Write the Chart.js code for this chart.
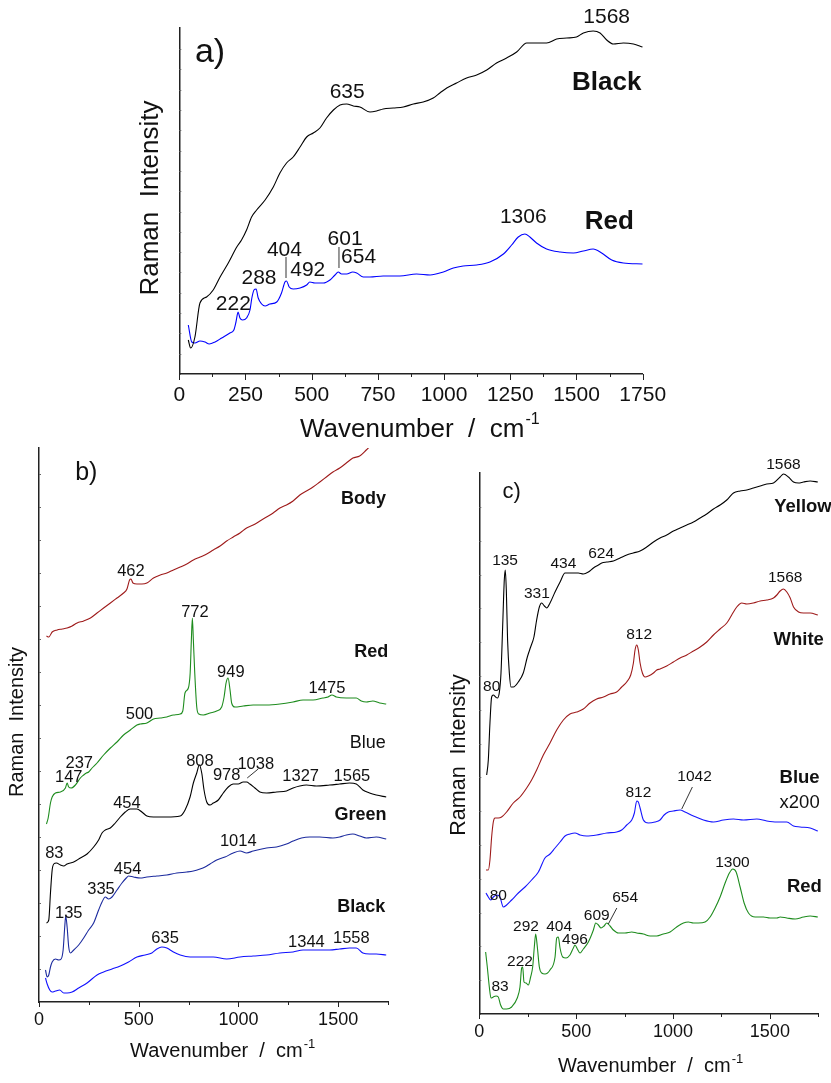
<!DOCTYPE html>
<html>
<head>
<meta charset="utf-8">
<script src="https://cdn.jsdelivr.net/npm/chart.js@4.4.0/dist/chart.umd.min.js"></script>
<style>
  body { margin: 0; background: #fff; }
  #wrap { position: relative; width: 831px; height: 1083px; overflow: hidden; }
  canvas { position: absolute; }
</style>
</head>
<body>
<div id="wrap">
  <canvas id="pa" width="701" height="440" style="left:130px;top:0px"></canvas>
  <canvas id="pb" width="440" height="643" style="left:0px;top:440px"></canvas>
  <canvas id="pc" width="391" height="643" style="left:440px;top:440px"></canvas>
</div>
<script>
// ---- panel a) : wavenumber (cm-1) / relative intensity ----
const aTicks = [0, 250, 500, 750, 1000, 1250, 1500, 1750];
const aBlackX = [34,43,59,78,103,128,154,185,217,235,
  254,273,292,324,355,380,405,430,456,481,
  506,531,556,582,607,632,657,682,720,745,
  770,808,846,884,921,959,984,1010,1047,1085,
  1123,1161,1198,1236,1274,1312,1349,1387,1425,1463,
  1500,1526,1563,1589,1614,1639,1677,1715,1750];
const aBlackY = [34,26,37,71,77,84,97,111,127,134,
  144,157,164,174,187,201,211,217,227,237,
  241,246,256,264,269,270,268,267,262,263,
  265,266,267,270,272,276,281,286,291,296,
  299,304,311,316,322,331,331,331,335,336,
  337,341,343,341,334,330,331,330,327];
const aRedX = [34,47,59,78,97,113,135,160,191,206,
  214,222,229,239,254,267,274,282,290,298,
  311,324,342,368,386,399,405,415,430,456,
  481,493,512,544,569,588,600,613,632,655,
  670,695,720,770,833,896,947,997,1035,1072,
  1123,1173,1224,1255,1280,1305,1324,1349,1387,1438,
  1488,1526,1563,1595,1633,1677,1750];
const aRedY = [49,32,31,33,32,30,32,36,41,44,
  52,62,56,54,56,64,76,84,85,76,
  70,68,70,72,81,92,93,87,85,86,
  89,92,91,91,94,99,102,100,100,102,
  101,97,97,98,98,100,99,102,106,108,
  109,112,120,129,137,140,137,131,125,122,
  121,123,125,121,114,111,110];
const aNames = [['Black', 1614, 291], ['Red', 1624, 152]];
const aPeaks = [['1568',1614,357],['635',634,282],['1306',1299,157],['404',397,124],
  ['601',626,135],['654',677,117],['492',485,104],['288',301,96],['222',204,70]];
const aLeaders = [[403,117,403,96],[603,127,603,106]];

// ---- panel b) ----
const bTicks = [0, 500, 1000, 1500];
const bBodyX = [37.5,49,66,91,116,141,166,191,224,258,
  291,324,358,391,424,441,454,461,471,491,
  516,541,574,608,641,674,708,741,774,808,
  841,874,908,941,974,1008,1041,1074,1108,1141,
  1174,1208,1241,1274,1308,1341,1374,1408,1441,1474,
  1508,1541,1574,1608,1641,1661];
const bBodyY = [366,365,370,372,373,374,376,379,381,384,
  389,394,399,404,409,413,422,423,419,418,
  418,419,424,427,429,432,435,438,442,445,
  448,452,456,461,465,469,474,477,481,485,
  489,494,497,501,507,511,515,520,525,530,
  534,539,544,546,552,556];
const bRedX = [37.5,46,57.5,66,82.5,107.5,132.5,141,149,161,
  182.5,207.5,224,237.5,249,266,291,324,358,391,
  424,458,491,508,541,574,608,641,674,708,
  721,732,749,758,764,769,774,781,791,801,
  824,858,891,916,928,938,948,958,966,982,
  1024,1074,1141,1208,1274,1324,1374,1424,1449,1469,
  1491,1541,1591,1616,1641,1674,1708,1741];
const bRedY = [178,184,199,205,209,210,214,219,215,214,
  217,224,227,229,230,234,239,247,254,260,
  267,272,277,278,279,283,284,285,287,288,
  291,309,314,329,362,384,362,329,295,288,
  287,289,291,295,305,319,324,312,299,295,
  296,297,297,298,300,302,302,304,305,307,
  305,304,304,301,300,301,299,298];
const bBlueX = [37.5,49,57.5,66,74,87.5,107.5,124,141,174,
  207.5,241,274,299,316,332.5,357.5,382.5,407.5,432.5,
  457.5,491,516,541,574,641,708,732.5,757.5,774,
  791,804,816,827.5,841,857.5,874,899,924,949,
  974,999,1024,1041,1057.5,1082.5,1107.5,1141,1191,1241,
  1274,1307.5,1341,1391,1457.5,1507.5,1557.5,1591,1624,1657.5,
  1691,1741];
const bBlueY = [79,82,109,132,138,139,137,136,138,140,
  144,148,155,162,169,172,174,179,185,190,
  193,193,190,186,185,185,186,192,205,219,
  229,237,229,212,200,197,199,202,209,215,
  218,218,220,220,218,214,210,209,210,211,
  214,216,217,216,217,218,219,218,212,209,
  207,205];
const bGreenX = [32.5,41,49,57.5,66,82.5,99,111,121,129,
  134,141,149,157.5,174,199,224,249,274,299,
  316,332.5,349,366,391,416,437.5,449,474,507.5,
  541,591,641,691,741,774,807.5,832.5,857.5,891,
  932.5,974,1008,1041,1074,1141,1191,1241,1274,1316,
  1357.5,1407.5,1474,1507.5,1541,1574,1608,1641,1691,1741];
const bGreenY = [32,25,27,35,40,43,42,43,52,75,
  86,75,55,49,52,57,64,72,79,92,
  100,105,103,105,112,119,124,126,125,124,
  125,126,127,129,130,131,133,135,138,142,
  145,149,151,149,151,154,155,158,161,164,
  165,165,164,165,167,168,166,164,165,163];
const bBlackX = [32.5,41,54,66,82.5,104,124,141,166,199,
  241,291,324,366,407.5,449,491,532.5,566,591,
  616,641,674,708,758,807.5,874,941,1008,1074,
  1141,1208,1274,1324,1391,1457.5,1507.5,1557.5,1591,1624,
  1657.5,1691,1741];
const bBlackY = [24,18,12,10,11,12,9,9,10,14,
  19,27,30,33,36,40,45,47,49,53,
  55,54,50,47,45,45,45,43,45,46,
  47,49,50,52,52,52,53,54,54,49,
  48,48,47];
const bNames = [['Body',1627,503],['Red',1666,350],['Green',1612,187],['Black',1616,95]];
const bPlain = [['Blue',1649,259]];
const bPeaks = [['462',461,431],['772',782,390],['949',962,330],['1475',1444,314],['500',504,288],
  ['237',202,239],['808',807,241],['147',149,225],['978',941,227],['1038',1087,238],
  ['1327',1312,226],['1565',1569,226],['454',441,199],['83',77,149],['1014',999,161],
  ['454',444,133],['335',311,113],['135',149,89],['635',632,64],['1344',1341,60],['1558',1566,64]];
const bLeaders = [[1044,224,1099,233]];

// ---- panel c) ----
const cTicks = [0, 500, 1000, 1500];
const cYellowX = [38,46.5,55,63.7,72.3,84.4,93,103,112,120.5,
  129,134,139.5,146,155,163.6,175.6,201.4,227,248,
  265,282,296,310,322,336,348,365,391,417,
  442.5,460,485.5,511,537,563,589,615,632,658,
  692,726.6,761,795,830,864,899,933,967.6,1002,
  1036.5,1071,1105.4,1140,1174,1208.7,1243,1277.5,1312,1346.4,
  1381,1415,1450,1484,1518.6,1553,1570,1596,1622,1648,
  1673.5,1708,1747.6];
const cYellowY = [239,254,291,317,319,317,316,321,341,387,
  434,444,424,374,341,327,327,332,341,357,
  367,377,394,407,411,408,406,411,422,432,
  441,441,441,441,440,442,446,449,451,452,
  453,456,459,461,463,467,472,476,479,483,
  486,489,492,496,500,505,509,514,521,523,
  524,526,528,530,531,537,540,537,532,531,
  532,533,532];
const cWhiteX = [34.4,46.5,55,63.7,72.3,81,98,115,141,175.6,
  210,244.5,270,296,330.6,365,399.5,434,468,503,
  537,571.6,606,640.5,675,709,735,761,781.7,795.5,
  804,812.7,821,830,842,856,873,899,916,933,
  967.6,1002,1036.5,1071,1105.4,1140,1174,1208.7,1243,1277.5,
  1303,1329,1355,1381,1415,1450,1484,1518.6,1536,1553,
  1570,1587.5,1605,1622,1648,1673.5,1708,1747.6];
const cWhiteY = [144,144,154,177,192,196,196,197,202,211,
  217,226,234,244,259,271,284,294,300,302,
  305,311,315,317,320,322,327,332,339,351,
  364,369,364,351,341,337,338,341,344,345,
  348,352,356,359,363,367,372,379,385,391,
  399,407,411,410,411,413,414,416,419,423,
  425,422,416,407,402,401,401,399];
const cBlueX = [34.4,46.5,58.5,72.3,89.5,106.7,124,141,167,201.4,
  236,270,305,339,365,391,417,442.5,468,494,
  520,554,606,658,709,735,761,787,800.6,812.7,
  821,830,847,873,907,933,954,976,1002,1036.5,
  1062,1105.4,1157,1208.7,1260,1312,1363.6,1432.5,1484,1536,
  1587.5,1622,1656,1708,1747.6];
const cBlueY = [121,117,114,117,119,117,107,109,114,121,
  127,134,142,156,160,166,172,178,180,181,
  179,178,179,181,182,184,189,194,201,213,
  212,206,194,191,192,194,199,202,203,204,
  202,198,194,192,194,195,194,195,193,192,
  192,188,187,186,183];
const cRedX = [32.7,41.3,51.7,60.3,72.3,86,98,110,124,141,
  167,196,210,218.7,224,230.7,241,253,265,275.5,
  284,291,299.6,310,322,339,365,391,399.5,408,
  416.7,430.4,447.7,468,485.5,494,506,520,537,563,
  589,601,614.7,628.4,644,657.7,675,692,718,752,
  787,812.7,847,881.5,916,950,985,1019,1053.7,1079.5,
  1105.4,1131,1165.6,1191.5,1217.3,1243,1269,1291,1308.5,1325.8,
  1346.4,1367,1389.5,1424,1467,1501,1536,1553,1587.5,1630.5,
  1673.5,1708,1747.6];
const cRedY = [62,47,27,16,17,18,17,9,5,5,
  7,16,27,46,47,32,31,29,37,47,
  67,80,67,47,41,40,44,57,76,77,
  66,57,56,59,66,69,65,61,65,72,
  84,91,89,86,88,91,88,84,81,81,
  82,81,80,78,78,80,82,87,91,92,
  91,91,92,97,106,117,131,141,145,142,
  127,111,101,97,97,96,96,97,96,95,
  97,98,97];
const cNames = [['Yellow',1522,507],['White',1519,374],['Blue',1550,236],['Red',1588,127]];
const cPlain = [['x200',1550,211]];
const cPeaks = [['1568',1570,549],['135',133,453],['331',297,420],['434',434,450],['624',629,460],
  ['1568',1579,436],['812',825,379],['80',64,327],['812',821,221],['1042',1111,237],
  ['1300',1307,151],['80',98,118],['609',606,98],['654',753,116],['292',241,87],
  ['404',412,87],['496',494,74],['222',210,52],['83',107,27]];
const cLeaders = [[1045,205,1100,227],[666,90,710,106]];

const FONT = 'Arial, "Liberation Sans", Helvetica, sans-serif';

function toXY(xs, ys) {
  return xs.map((v, i) => ({ x: v, y: ys[i] }));
}

function series(xs, ys, color) {
  return {
    data: toXY(xs, ys),
    borderColor: color,
    borderWidth: 1.1,
    pointRadius: 0,
    fill: false,
    cubicInterpolationMode: 'monotone'
  };
}

// ticks, peak labels and axis titles drawn on top of the plot
const deco = {
  id: 'deco',
  afterDraw(chart, args, o) {
    const { ctx, chartArea: ca, scales: { x, y } } = chart;
    ctx.save();
    ctx.strokeStyle = '#222';
    ctx.lineWidth = 1;
    for (let v = 0; v <= 1750; v += o.minor) {
      const px = Math.round(x.getPixelForValue(v)) + 0.5;
      const len = v % o.major === 0 ? o.majorLen : o.minorLen;
      ctx.beginPath();
      ctx.moveTo(px, ca.bottom);
      ctx.lineTo(px, ca.bottom + len);
      ctx.stroke();
    }
    ctx.strokeStyle = '#666';
    for (let py = ca.bottom - o.yStep; py > ca.top + 3; py -= o.yStep) {
      ctx.beginPath();
      ctx.moveTo(ca.left, Math.round(py) + 0.5);
      ctx.lineTo(ca.left + 2, Math.round(py) + 0.5);
      ctx.stroke();
    }
    ctx.strokeStyle = '#333';
    o.leaders.forEach(l => {
      ctx.beginPath();
      ctx.moveTo(x.getPixelForValue(l[0]), y.getPixelForValue(l[1]));
      ctx.lineTo(x.getPixelForValue(l[2]), y.getPixelForValue(l[3]));
      ctx.stroke();
    });

    ctx.fillStyle = '#111';
    ctx.textBaseline = 'middle';
    const put = (list, font, align) => {
      ctx.font = font;
      ctx.textAlign = align;
      list.forEach(t => ctx.fillText(t[0], x.getPixelForValue(t[1]), y.getPixelForValue(t[2])));
    };
    put(o.peaks, o.peakFont + 'px ' + FONT, 'center');
    put(o.names, 'bold ' + o.nameFont + 'px ' + FONT, o.nameAlign);
    put(o.plain, o.nameFont + 'px ' + FONT, o.nameAlign);
    put([o.tag], o.tagFont + 'px ' + FONT, 'center');

    // x title with superscript
    const t = o.xTitle;
    ctx.textBaseline = 'alphabetic';
    ctx.textAlign = 'left';
    ctx.font = t.size + 'px ' + FONT;
    const main = 'Wavenumber  /  cm';
    ctx.fillText(main, t.x - o.ox, t.y - o.oy);
    const w = ctx.measureText(main).width;
    ctx.font = t.sup + 'px ' + FONT;
    ctx.fillText('-1', t.x - o.ox + w + 1, t.y - o.oy - t.raise);

    // y title
    const yt = o.yTitle;
    ctx.translate(yt.x - o.ox, yt.y - o.oy);
    ctx.rotate(-Math.PI / 2);
    ctx.textAlign = 'center';
    ctx.textBaseline = 'middle';
    ctx.font = yt.size + 'px ' + FONT;
    ctx.fillText('Raman  Intensity', 0, 0);
    ctx.restore();
  }
};

function makeChart(id, cfg) {
  const axisBorder = { display: true, color: '#222', width: 1.5 };
  return new Chart(document.getElementById(id), {
    type: 'line',
    data: { datasets: cfg.datasets },
    plugins: [deco],
    options: {
      responsive: false,
      animation: false,
      events: [],
      layout: { padding: { top: cfg.padTop, right: cfg.padRight, left: 0, bottom: 0 } },
      plugins: { legend: { display: false }, tooltip: { enabled: false }, deco: cfg.deco },
      scales: {
        x: {
          type: 'linear', min: 0, max: 1750,
          afterFit: s => { s.height = cfg.xAxisH; },
          afterBuildTicks: s => { s.ticks = cfg.ticks.map(v => ({ value: v })); },
          grid: { display: false, drawTicks: false },
          border: axisBorder,
          ticks: {
            autoSkip: false, maxRotation: 0, minRotation: 0,
            padding: cfg.tickPad, color: '#111',
            font: { family: FONT, size: cfg.tickSize },
            callback: v => String(v)
          }
        },
        y: {
          min: 0, max: cfg.yMax,
          afterFit: s => { s.width = cfg.yAxisW; },
          grid: { display: false, drawTicks: false },
          border: axisBorder,
          ticks: { display: false }
        }
      }
    }
  });
}

makeChart('pa', {
  datasets: [series(aBlackX, aBlackY, '#000000'), series(aRedX, aRedY, '#0000ff')],
  ticks: aTicks, yMax: 346, padTop: 28, padRight: 188.3, xAxisH: 66, yAxisW: 49.3,
  tickPad: 9, tickSize: 21,
  deco: {
    ox: 130, oy: 0, major: 250, minor: 125, majorLen: 6, minorLen: 3, yStep: 20.3,
    peaks: aPeaks, names: aNames, plain: [], tag: ['a)', 116, 321], leaders: aLeaders,
    peakFont: 21, nameFont: 26, tagFont: 34, nameAlign: 'center',
    xTitle: { x: 300, y: 437, size: 26, sup: 16, raise: 13 },
    yTitle: { x: 151, y: 198, size: 26 }
  }
});

makeChart('pb', {
  datasets: [
    series(bBodyX, bBodyY, '#9e1a1a'),
    series(bRedX, bRedY, '#1e8c1e'),
    series(bBlueX, bBlueY, '#000000'),
    series(bGreenX, bGreenY, '#1b2a9e'),
    series(bBlackX, bBlackY, '#1010ff')
  ],
  ticks: bTicks, yMax: 554, padTop: 8, padRight: 52, xAxisH: 81, yAxisW: 39,
  tickPad: 7, tickSize: 18,
  deco: {
    ox: 0, oy: 440, major: 500, minor: 250, majorLen: 5, minorLen: 3, yStep: 33,
    peaks: bPeaks, names: bNames, plain: bPlain, tag: ['b)', 237, 529], leaders: bLeaders,
    peakFont: 16.5, nameFont: 18, tagFont: 25, nameAlign: 'center',
    xTitle: { x: 130, y: 1057, size: 20, sup: 13, raise: 9 },
    yTitle: { x: 17.5, y: 722, size: 20 }
  }
});

makeChart('pc', {
  datasets: [
    series(cYellowX, cYellowY, '#000000'),
    series(cWhiteX, cWhiteY, '#9e1a1a'),
    series(cBlueX, cBlueY, '#1515ff'),
    series(cRedX, cRedY, '#1e8c1e')
  ],
  ticks: cTicks, yMax: 541, padTop: 33, padRight: 12.7, xAxisH: 69, yAxisW: 39.3,
  tickPad: 7, tickSize: 18,
  deco: {
    ox: 440, oy: 440, major: 500, minor: 250, majorLen: 5, minorLen: 3, yStep: 33.8,
    peaks: cPeaks, names: cNames, plain: cPlain, tag: ['c)', 167, 522], leaders: cLeaders,
    peakFont: 15.5, nameFont: 18.5, tagFont: 22, nameAlign: 'left',
    xTitle: { x: 558, y: 1072, size: 20, sup: 13, raise: 9 },
    yTitle: { x: 459.5, y: 755, size: 21.5 }
  }
});
</script>
</body>
</html>
